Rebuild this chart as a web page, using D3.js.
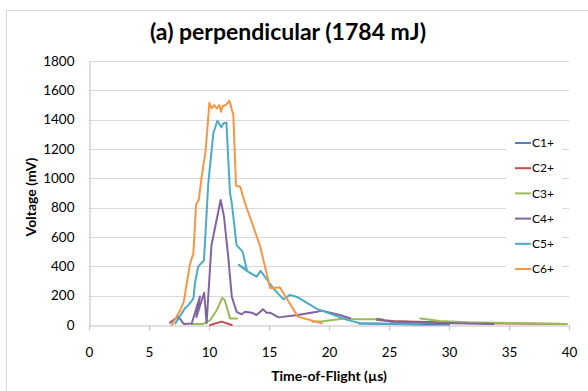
<!DOCTYPE html>
<html>
<head>
<meta charset="utf-8">
<script src="https://cdn.jsdelivr.net/npm/d3@7"></script>
<style>
  body { margin: 0; background: #fff; }
  svg { display: block; font-family: Lato, 'Open Sans', sans-serif; }
</style>
</head>
<body>
<div id="chart"></div>
<script>
// series: [time-of-flight (us), voltage (mV)], null = gap in the trace
const seriesNames = ['C1+', 'C2+', 'C3+', 'C4+', 'C5+', 'C6+'];
const seriesColors = ['#4F81BD', '#C0504D', '#9BBB59', '#8064A2', '#4BACC6', '#F79646'];

const c1 = [[22.5, 10], [25, 6], [27.5, 4], [30, 3]];
const c2 = [[10.1, 0], [11.05, 23], [11.9, 0], null,
  [24, 34], [25.4, 27], [27.3, 23], [33, 12], [39.8, 7]];
const c3 = [[8.55, 7], [9.5, 7], [10.1, 34], [10.6, 95], [10.8, 130], [10.7, 110], [11.1, 185], [11.3, 172],
  [11.75, 45], [12.35, 45], null,
  [18.6, 23], [19.5, 25], [21.3, 45], [22.2, 39], [24.5, 39], null,
  [27.6, 45], [29.25, 27], [31.5, 18], [39.8, 7]];
const c4 = [[6.75, 16], [7.44, 57], [7.9, 7], [8.56, 10], [9.25, 195], [8.95, 55], [9.6, 220], [9.8, 12],
  [10.2, 540], [10.97, 852], [11.25, 738], [11.6, 466], [11.9, 193], [12.3, 90], [12.72, 73], [13.0, 90],
  [13.56, 84], [13.97, 68], [14.5, 107], [14.8, 84], [15.1, 84], [15.78, 52], [17.4, 68], [19.0, 91],
  [19.4, 98], [20.9, 68], [21.75, 46], null,
  [24, 41], [25.1, 23], [28, 15], [33.7, 7]];
const c5 = [[7.2, 10], [8.0, 115], [8.28, 135], [8.7, 180], [8.83, 285], [9.1, 400], [9.58, 440], [9.94, 965],
  [10.36, 1307], [10.7, 1393], [11.03, 1348], [11.2, 1375], [11.45, 1380], [11.75, 900], [11.9, 830],
  [12.3, 545], [12.8, 500], [13.15, 375], [12.5, 410], [13.2, 365], [13.97, 330], [14.3, 370],
  [15.36, 250], [16.2, 175], [16.75, 205], [17.4, 189], [19.0, 110], [21.5, 35], [22.6, 12], [27.6, 5]];
const c6 = [[6.9, 0], [7.6, 100], [7.9, 160], [8.4, 410], [8.7, 490], [8.92, 820], [9.14, 850], [9.39, 1010],
  [9.72, 1190], [10.03, 1515], [10.22, 1477], [10.44, 1500], [10.64, 1477], [10.86, 1500], [11.0, 1454],
  [11.14, 1493], [11.4, 1500], [11.7, 1529], [12.03, 1431], [12.25, 950], [12.6, 943], [13.0, 830],
  [13.7, 670], [14.25, 540], [15.1, 250], [15.9, 257], [17.4, 57], [19.4, 12]];
const seriesData = [c1, c2, c3, c4, c5, c6];

const xTicks = [0, 5, 10, 15, 20, 25, 30, 35, 40];
const yTicks = [0, 200, 400, 600, 800, 1000, 1200, 1400, 1600, 1800];

const width = 588;
const height = 391;
const plot = {left: 89, right: 569, top: 61, bottom: 325};

const svg = d3.select('#chart')
  .append('svg')
  .attr('width', width)
  .attr('height', height);

// chart frame
svg.append('rect')
  .attr('x', 6.5)
  .attr('y', 10.5)
  .attr('width', 620)
  .attr('height', 420)
  .attr('fill', '#fff')
  .attr('stroke', '#D9D9D9');

const x = d3.scaleLinear().domain([0, 40]).range([plot.left, plot.right]);
const y = d3.scaleLinear().domain([0, 1800]).range([plot.bottom, plot.top]);

// gridlines
svg.append('g')
  .selectAll('line')
  .data(yTicks.filter(d => d > 0))
  .enter().append('line')
  .attr('x1', plot.left)
  .attr('x2', plot.right)
  .attr('y1', d => Math.round(y(d)) + 0.5)
  .attr('y2', d => Math.round(y(d)) + 0.5)
  .attr('stroke', '#D9D9D9');

// y axis
const yAxis = svg.append('g')
  .attr('transform', `translate(${plot.left + 0.5},0)`)
  .call(d3.axisLeft(y).tickValues(yTicks).tickFormat(d3.format('d')).tickSize(0).tickPadding(15));
yAxis.select('.domain').attr('stroke', '#BFBFBF');
yAxis.selectAll('text')
  .attr('font-size', 13.5)
  .attr('fill', '#000')
  .attr('font-family', 'Lato, sans-serif');

// x axis
const xAxis = svg.append('g')
  .attr('transform', `translate(0,${plot.bottom + 0.5})`)
  .call(d3.axisBottom(x).tickValues(xTicks).tickSize(5).tickSizeOuter(0).tickPadding(17));
xAxis.select('.domain').attr('stroke', '#BFBFBF');
xAxis.selectAll('.tick line').attr('stroke', '#BFBFBF');
xAxis.selectAll('text')
  .attr('font-size', 13.5)
  .attr('fill', '#000')
  .attr('font-family', 'Lato, sans-serif');

// series lines
const line = d3.line()
  .defined(d => d !== null)
  .x(d => x(d[0]))
  .y(d => y(d[1]));

svg.append('g')
  .selectAll('path')
  .data(seriesData)
  .enter().append('path')
  .attr('d', d => line(d))
  .attr('fill', 'none')
  .attr('stroke', (d, i) => seriesColors[i])
  .attr('stroke-width', 2)
  .attr('stroke-linejoin', 'round')
  .attr('stroke-linecap', 'round');

// legend
const legend = svg.append('g')
  .attr('transform', 'translate(506,131)');

legend.append('rect')
  .attr('width', 56)
  .attr('height', 150)
  .attr('fill', '#fff');

const legendItems = legend.selectAll('.legend-item')
  .data(seriesNames)
  .enter().append('g')
  .attr('class', 'legend-item')
  .attr('transform', (d, i) => `translate(0,${12 + i * 25.2})`);

legendItems.append('line')
  .attr('x1', 9)
  .attr('x2', 25)
  .attr('stroke', (d, i) => seriesColors[i])
  .attr('stroke-width', 2);

legendItems.append('text')
  .attr('x', 26)
  .attr('dy', '0.35em')
  .attr('font-size', 12)
  .text(d => d);

// titles
svg.append('text')
  .attr('x', 288)
  .attr('y', 40)
  .attr('text-anchor', 'middle')
  .attr('font-size', 23)
  .attr('font-weight', 'bold')
  .text('(a) perpendicular (1784 mJ)');

svg.append('text')
  .attr('x', 329)
  .attr('y', 381)
  .attr('text-anchor', 'middle')
  .attr('font-size', 14)
  .attr('font-weight', 'bold')
  .text('Time-of-Flight (µs)');

svg.append('text')
  .attr('transform', 'translate(36,197) rotate(-90)')
  .attr('text-anchor', 'middle')
  .attr('font-size', 14)
  .attr('font-weight', 'bold')
  .text('Voltage (mV)');
</script>
</body>
</html>
